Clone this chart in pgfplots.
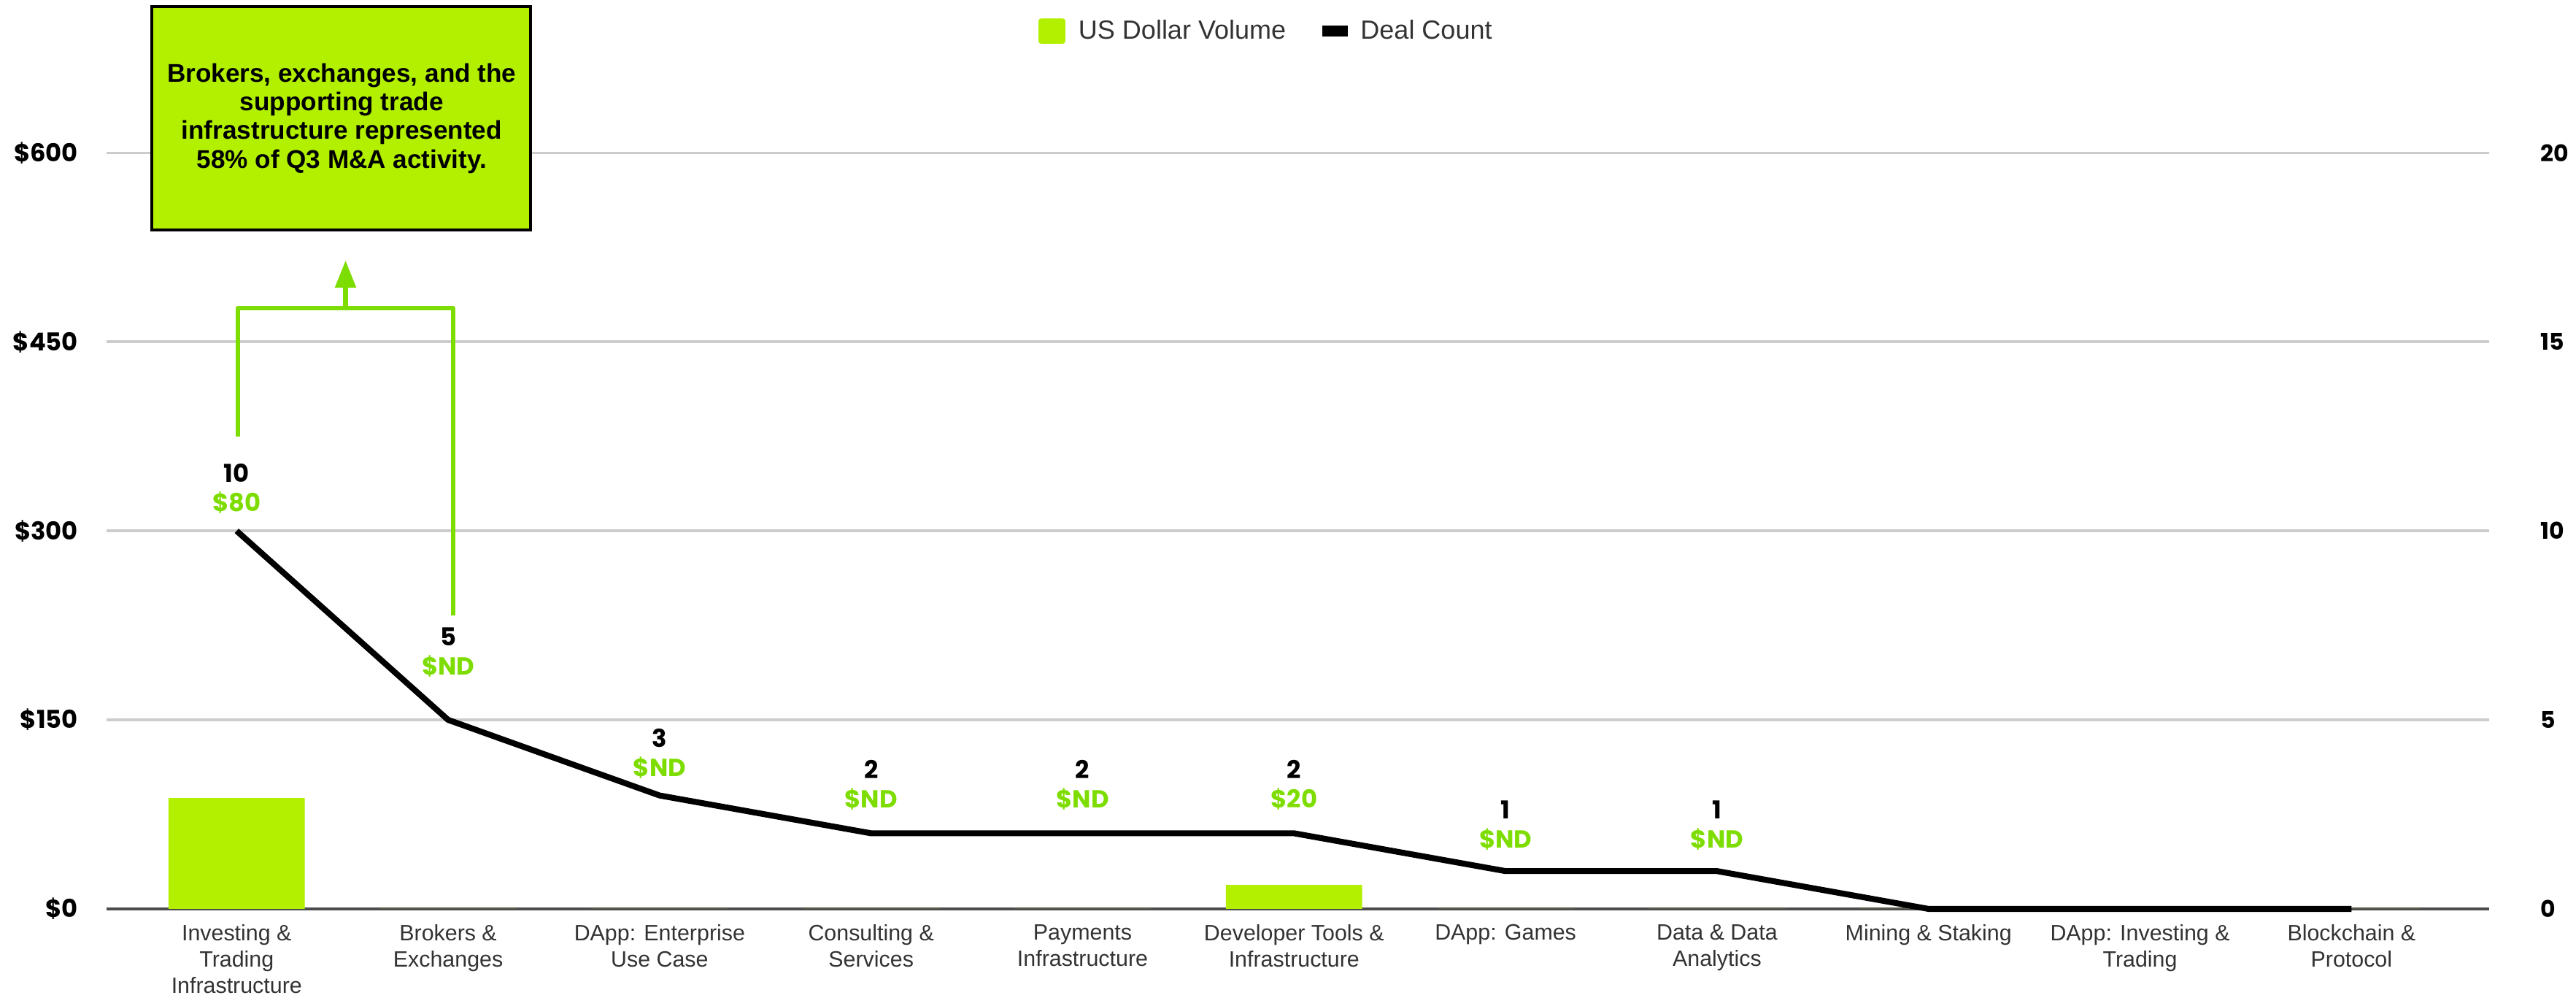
\documentclass[border=0pt]{standalone}
\usepackage{fontspec}
\setmainfont{Liberation Sans}
\newfontfamily\pop{Poppins}
\usepackage{pgfplots}
\pgfplotsset{compat=1.18}
\usepackage{pgfplotstable}
\usetikzlibrary{arrows.meta}
\definecolor{barG}{RGB}{178,240,0}
\definecolor{lblG}{RGB}{126,221,0}
\definecolor{catT}{RGB}{51,51,51}

\pgfplotstableread{
x count vol lbl off
0 10 88 80 17
1 5 0 ND 32.5
2 3 0 ND 17
3 2 0 ND 21
4 2 0 ND 21
5 2 19 20 21
6 1 0 ND 19.5
7 1 0 ND 19.5
8 0 0 ND 19
9 0 0 ND 19
10 0 0 ND 19
}\data

\begin{document}
\begin{tikzpicture}
\path[use as bounding box] (-65pt,-54pt) rectangle (1503pt,553pt);
\begin{axis}[
  at={(0pt,0pt)}, anchor=south west,
  scale only axis, width=1450pt, height=460pt,
  xmin=-0.614, xmax=10.65, ymin=0, ymax=600,
  axis line style={draw=none},
  tick style={draw=none},
  major tick length=0pt,
  xtick={0,...,10},
  xticklabels={{Investing \&\\Trading\\Infrastructure},{Brokers \&\\Exchanges},{DApp: Enterprise\\Use Case},{Consulting \&\\Services},{Payments\\Infrastructure},{Developer Tools \&\\Infrastructure},{DApp: Games},{Data \& Data\\Analytics},{Mining \& Staking},{DApp: Investing \&\\Trading},{Blockchain \&\\Protocol}},
  xticklabel style={font=\fontsize{13.5}{16}\selectfont, text=catT, align=center, anchor=north, yshift=-6pt},
  ytick={0,150,...,600},
  yticklabel={\$\pgfmathprintnumber{\tick}},
  yticklabel style={font=\pop\bfseries\fontsize{15}{18}\selectfont, anchor=east, xshift=-14pt},
  ymajorgrids, grid style={draw=black!20, line width=1.6pt},
  extra y ticks={0}, extra y tick labels={},
  extra y tick style={grid style={draw=black!70, line width=1.6pt}},
  /pgf/number format/assume math mode=true,
  clip=false,
  ybar, bar width=83pt,
]
\addplot[fill=barG, draw=none] table[x=x,y=vol]{\data};
% callout
\draw[fill=barG, line width=1.8pt] (axis cs:-0.40,716) rectangle (axis cs:1.39,538.7);
\node[align=center, font=\bfseries\fontsize{15.6}{17.5}\selectfont] at (axis cs:0.497,627.4) {Brokers, exchanges, and the\\supporting trade\\infrastructure represented\\58\% of Q3 M\&A activity.};
\draw[lblG, line width=2.7pt, line join=round] (axis cs:0.005,375) -- (axis cs:0.005,476.7) -- (axis cs:1.023,476.7) -- (axis cs:1.023,233);
\draw[lblG, line width=2.7pt, -{Triangle[width=12.4pt,length=16.6pt]}] (axis cs:0.515,476.7) -- (axis cs:0.515,514.6);
\end{axis}
\begin{axis}[
  at={(0pt,0pt)}, anchor=south west,
  scale only axis, width=1450pt, height=460pt,
  xmin=-0.614, xmax=10.65, ymin=0, ymax=20,
  hide x axis,
  axis line style={draw=none},
  tick style={draw=none},
  major tick length=0pt,
  ytick pos=right, yticklabel pos=right,
  ytick={0,5,...,20},
  yticklabel style={font=\pop\bfseries\fontsize{14}{17}\selectfont, anchor=west, xshift=28pt},
  /pgf/number format/assume math mode=true,
  clip=false,
  legend style={at={(0.487,1.161)}, anchor=center, draw=none, fill=none, legend columns=2,
    font=\fontsize{16}{19}\selectfont, text=catT,
    /tikz/every odd column/.append style={column sep=6pt},
    /tikz/every even column/.append style={column sep=20pt}},
]
\addlegendimage{legend image code/.code={\fill[barG, rounded corners=1.5pt] (0pt,-7.5pt) rectangle (16pt,7.5pt);}}
\addlegendentry{US Dollar Volume}
\addlegendimage{legend image code/.code={\fill[black] (0pt,-3pt) rectangle (15pt,3pt);}}
\addlegendentry{Deal Count}
\addplot[black, line width=3.6pt, line join=round, mark=none, forget plot] table[x=x,y=count]{\data};
\addplot[draw=none, mark=none, forget plot, restrict x to domain=0:7,
  nodes near coords, point meta=explicit,
  visualization depends on={\thisrow{off} \as \laboff},
  every node near coord/.append style={anchor=center, yshift=\laboff pt+18pt, text=black, font=\pop\bfseries\fontsize{15}{18}\selectfont}]
  table[x=x,y=count,meta=count]{\data};
\addplot[draw=none, mark=none, forget plot, restrict x to domain=0:7,
  nodes near coords={\$\pgfplotspointmeta}, point meta=explicit symbolic,
  visualization depends on={\thisrow{off} \as \laboff},
  every node near coord/.append style={anchor=center, yshift=\laboff pt, text=lblG, font=\pop\bfseries\fontsize{15}{18}\selectfont}]
  table[x=x,y=count,meta=lbl]{\data};
\end{axis}
\end{tikzpicture}
\end{document}
